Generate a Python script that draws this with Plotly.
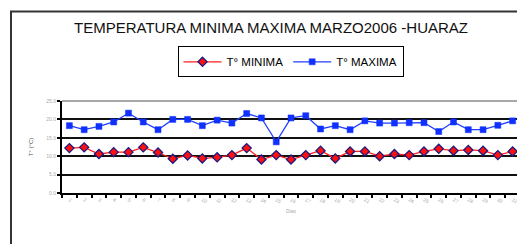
import plotly.graph_objects as go

dias = [str(i) for i in range(1, 32)]
t_min = [12.2, 12.4, 10.6, 11.1, 11.1, 12.4, 11.0, 9.3, 10.2, 9.4,
         9.7, 10.3, 12.2, 9.1, 10.3, 9.1, 10.3, 11.5, 9.4, 11.3,
         11.3, 10.0, 10.6, 10.3, 11.3, 12.0, 11.5, 11.7, 11.5, 10.3, 11.3]
t_max = [18.3, 17.2, 18.1, 19.3, 21.7, 19.3, 17.2, 20.0, 20.0, 18.3,
         19.8, 19.0, 21.6, 20.4, 13.9, 20.4, 21.0, 17.4, 18.3, 17.2,
         19.6, 19.0, 19.0, 19.1, 19.1, 16.7, 19.3, 17.2, 17.2, 18.4, 19.6]
y_ticks = [0, 5, 10, 15, 20, 25]
y_labels = ["0.0", "5.0", "10.0", "15.0", "20.0", "25.0"]

OFF = 8  # default page body margin
W, H = 525 - OFF, 244 - OFF
# plot area in page pixel coords
PX0, PX1, PY0, PY1 = 62, 520, 101, 193.5
L = PX0 - OFF
R = W - (PX1 - OFF)
T = PY0 - OFF
B = H - (PY1 - OFF)
pw = PX1 - PX0
ph = PY1 - PY0

def px_x(x):
    return (x - PX0) / pw

def px_y(y):
    return (PY1 - y) / ph

fig = go.Figure()
fig.add_trace(go.Scatter(
    x=dias, y=t_min, name="T° MINIMA", mode="lines+markers",
    line=dict(color="#ff2020", width=1.3),
    marker=dict(symbol="diamond", size=7, color="#ff1010",
                line=dict(color="#1a1a80", width=1.3)),
))
fig.add_trace(go.Scatter(
    x=dias, y=t_max, name="T° MAXIMA", mode="lines+markers",
    line=dict(color="#2040ff", width=1.3),
    marker=dict(symbol="square", size=6, color="#1030ff",
                line=dict(color="#1030ff", width=0.5)),
))

fig.update_layout(
    width=W, height=H,
    margin=dict(l=L, r=R, t=T, b=B),
    paper_bgcolor="white", plot_bgcolor="white",
    font=dict(family="Liberation Sans, Arial, sans-serif", color="black"),
    title=dict(text="TEMPERATURA MINIMA MAXIMA MARZO2006 -HUARAZ",
               x=(271 - OFF) / W, xanchor="center", xref="container",
               y=1 - (28 - OFF) / H, yanchor="middle", yref="container",
               font=dict(size=15, color="#111111")),
    showlegend=True,
    legend=dict(orientation="h", x=px_x(290.5), xanchor="center", y=px_y(46), yanchor="top",
                bordercolor="black", borderwidth=1, bgcolor="white",
                font=dict(size=11.5, color="black"), itemwidth=38,
                tracegroupgap=0),
    xaxis=dict(type="category", range=[-0.5, 30.5], tickson="boundaries",
               ticks="outside", ticklen=3,
               tickcolor="black", tickwidth=1.5,
               showline=True, linecolor="black", linewidth=2,
               showgrid=False, zeroline=False,
               tickfont=dict(size=5, color="#aaaaaa"),
               title=dict(text="Dias", font=dict(size=5, color="#aaaaaa"), standoff=6)),
    yaxis=dict(range=[0, 25], tickvals=y_ticks, ticktext=y_labels,
               ticks="outside", ticklen=3, tickcolor="black", tickwidth=1.5,
               showline=True, linecolor="black", linewidth=2,
               showgrid=True, gridcolor="#111111", gridwidth=1.5, zeroline=False,
               tickfont=dict(size=5, color="#aaaaaa"),
               title=dict(text="T° (°C)", font=dict(size=6, color="#555555"), standoff=12)),
    shapes=[
        dict(type="line", xref="paper", yref="paper", x0=0, x1=1, y0=1, y1=1,
             line=dict(color="#a8a8a8", width=2), layer="above"),
        dict(type="line", xref="paper", yref="paper", x0=1, x1=1, y0=0, y1=1,
             line=dict(color="#a8a8a8", width=2), layer="above"),
        dict(type="rect", xref="paper", yref="paper",
             x0=px_x(11), x1=px_x(560), y0=px_y(11), y1=px_y(300),
             line=dict(color="#333333", width=2)),
    ],
)

fig.write_html("out.html")
